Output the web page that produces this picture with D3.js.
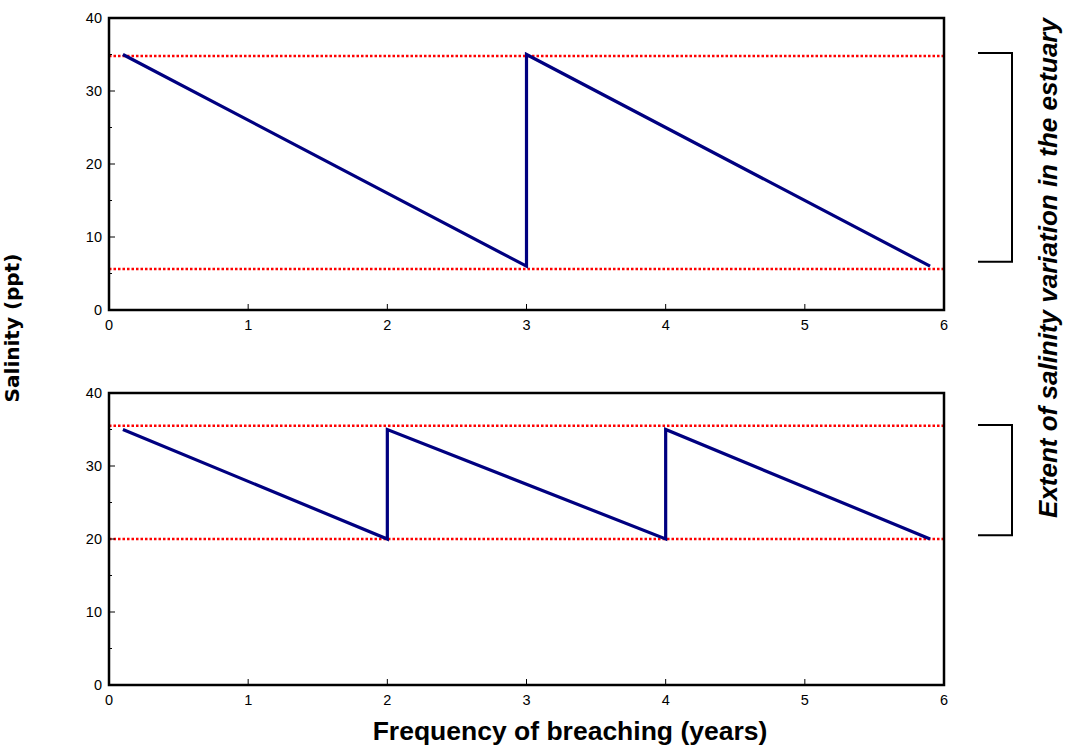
<!DOCTYPE html>
<html>
<head>
<meta charset="utf-8">
<script src="https://cdn.jsdelivr.net/npm/d3@7"></script>
<style>
  body { margin: 0; background: #fff; }
  text { font-family: "Liberation Sans", Arial, sans-serif; }
</style>
</head>
<body>
<div id="plot" style="width:1067px;height:747px;"></div>
<script>
// x ticks, y ticks
var xTicks = [0, 1, 2, 3, 4, 5, 6];
var yTicks = [0, 10, 20, 30, 40];
var yMinorTicks = [5, 15, 25, 35];

// top panel: breaching every 3 years
var topX = [0.1, 3, 3, 5.9];
var topY = [35, 6, 35, 6];
var topLimits = [34.8, 5.6];
var topBracket = [35.2, 6.6];

// bottom panel: breaching every 2 years
var bottomX = [0.1, 2, 2, 4, 4, 5.9];
var bottomY = [35, 20, 35, 20, 35, 20];
var bottomLimits = [35.5, 20];
var bottomBracket = [35.6, 20.5];

var svg = d3.select("#plot")
            .append("svg")
            .attr("width", 1067)
            .attr("height", 747);

var xScale = d3.scaleLinear().domain([0, 6]).range([109, 944]);

function drawPanel(xs, ys, limits, bracket, top, bottom) {
    var yScale = d3.scaleLinear().domain([0, 40]).range([bottom, top]);
    var g = svg.append("g");

    // red dotted limits
    g.selectAll(".limit")
        .data(limits)
        .enter().append("line")
        .attr("class", "limit")
        .attr("x1", xScale(0))
        .attr("x2", xScale(6))
        .attr("y1", function(d){ return yScale(d); })
        .attr("y2", function(d){ return yScale(d); })
        .style("stroke", "#ff0000")
        .style("stroke-width", 2.5)
        .style("stroke-dasharray", "2.5,2");

    // salinity line
    var pts = xs.map(function(x, i){ return [x, ys[i]]; });
    g.append("path")
        .datum(pts)
        .attr("d", d3.line()
            .x(function(d){ return xScale(d[0]); })
            .y(function(d){ return yScale(d[1]); }))
        .style("fill", "none")
        .style("stroke", "#000080")
        .style("stroke-width", 3.2);

    // frame
    g.append("rect")
        .attr("x", xScale(0))
        .attr("y", yScale(40))
        .attr("width", xScale(6) - xScale(0))
        .attr("height", yScale(0) - yScale(40))
        .style("fill", "none")
        .style("stroke", "#000")
        .style("stroke-width", 2.5);

    // x ticks (inward) and labels
    g.selectAll(".xtick")
        .data(xTicks.slice(1, -1))
        .enter().append("line")
        .attr("x1", function(d){ return xScale(d); })
        .attr("x2", function(d){ return xScale(d); })
        .attr("y1", yScale(0))
        .attr("y2", yScale(0) - 6)
        .style("stroke", "#000");
    g.selectAll(".xlab")
        .data(xTicks)
        .enter().append("text")
        .attr("x", function(d){ return xScale(d); })
        .attr("y", yScale(0) + 20)
        .attr("text-anchor", "middle")
        .style("font-size", "14.5px")
        .text(function(d){ return d; });

    // y ticks
    g.selectAll(".ytick")
        .data(yTicks.slice(1, -1))
        .enter().append("line")
        .attr("x1", xScale(0))
        .attr("x2", xScale(0) + 6)
        .attr("y1", function(d){ return yScale(d); })
        .attr("y2", function(d){ return yScale(d); })
        .style("stroke", "#000");
    g.selectAll(".yminor")
        .data(yMinorTicks)
        .enter().append("line")
        .attr("x1", xScale(0))
        .attr("x2", xScale(0) + 3)
        .attr("y1", function(d){ return yScale(d); })
        .attr("y2", function(d){ return yScale(d); })
        .style("stroke", "#000");
    g.selectAll(".ylab")
        .data(yTicks)
        .enter().append("text")
        .attr("x", xScale(0) - 7)
        .attr("y", function(d){ return yScale(d); })
        .attr("dy", "0.35em")
        .attr("text-anchor", "end")
        .style("font-size", "14.5px")
        .text(function(d){ return d; });

    // bracket on the right
    var bx0 = 978, bx1 = 1012;
    g.append("path")
        .attr("d", "M" + bx0 + "," + yScale(bracket[0]) +
                   "H" + bx1 + "V" + yScale(bracket[1]) + "H" + bx0)
        .style("fill", "none")
        .style("stroke", "#000")
        .style("stroke-width", 2);
}

drawPanel(topX, topY, topLimits, topBracket, 18, 310);
drawPanel(bottomX, bottomY, bottomLimits, bottomBracket, 393, 685);

// axis titles
svg.append("text")
    .attr("transform", "translate(19, 328) rotate(-90)")
    .attr("text-anchor", "middle")
    .style("font-family", "'DejaVu Sans', Verdana, sans-serif")
    .style("font-weight", "bold")
    .style("font-size", "20px")
    .text("Salinity (ppt)");

svg.append("text")
    .attr("x", 570)
    .attr("y", 740)
    .attr("text-anchor", "middle")
    .style("font-weight", "bold")
    .style("font-size", "26.5px")
    .text("Frequency of breaching (years)");

svg.append("text")
    .attr("transform", "translate(1057, 268) rotate(-90)")
    .attr("text-anchor", "middle")
    .style("font-weight", "bold")
    .style("font-style", "italic")
    .style("font-size", "26px")
    .text("Extent of salinity variation in the estuary");
</script>
</body>
</html>
